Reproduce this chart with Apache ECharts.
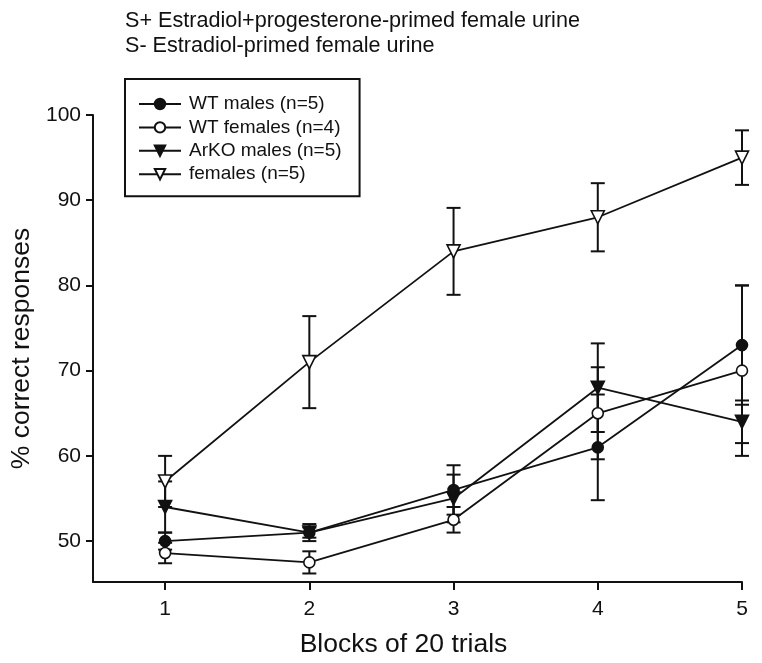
<!DOCTYPE html>
<html>
<head>
<meta charset="utf-8">
<script src="https://cdn.jsdelivr.net/npm/echarts@6/dist/echarts.min.js"></script>
<style>
html,body{margin:0;padding:0;background:#fff;}
#chart{width:762px;height:663px;}
</style>
</head>
<body>
<div id="chart"></div>
<script>
// ---- data ----
var titleLines = ['S+ Estradiol+progesterone-primed female urine', 'S- Estradiol-primed female urine'];
var blocks = [1, 2, 3, 4, 5];
var xTicks = [1, 2, 3, 4, 5];
var yTicks = [50, 60, 70, 80, 90, 100];
var seriesNames = ['WT males (n=5)', 'WT females (n=4)', 'ArKO males (n=5)', 'females (n=5)'];
var wtMales = [50, 51, 56, 61, 73];
var wtMalesErr = [1.0, 1.0, 2.9, 6.2, 7.0];
var wtFemales = [48.6, 47.5, 52.5, 65, 70];
var wtFemalesErr = [1.2, 1.3, 1.5, 5.4, 10.0];
var arkoMales = [54, 51, 55, 68, 64];
var arkoMalesErr = [3.0, 0.6, 2.8, 5.2, 2.5];
var females = [57, 71, 84, 88, 95];
var femalesErr = [3.0, 5.4, 5.1, 4.0, 3.2];

var FONT = '"Liberation Sans", Arial, Helvetica, sans-serif';
var INK = '#111';

var groups = [
  {name: seriesNames[0], vals: wtMales, err: wtMalesErr, symbol: 'circle', rot: 0, fill: INK, size: 11, z: 5},
  {name: seriesNames[1], vals: wtFemales, err: wtFemalesErr, symbol: 'circle', rot: 0, fill: '#fff', size: 11, z: 3},
  {name: seriesNames[2], vals: arkoMales, err: arkoMalesErr, symbol: 'triangle', rot: 180, fill: INK, size: 13, z: 4},
  {name: seriesNames[3], vals: females, err: femalesErr, symbol: 'triangle', rot: 180, fill: '#fff', size: 13, z: 3}
];

function pairs(v) { return blocks.map(function (b, i) { return [b, v[i]]; }); }
function triples(v, e) { return blocks.map(function (b, i) { return [b, v[i], e[i]]; }); }

function renderErr(params, api) {
  var x = api.value(0), y = api.value(1), e = api.value(2);
  var top = api.coord([x, y + e]);
  var bot = api.coord([x, y - e]);
  var hw = 7;
  var st = {stroke: INK, lineWidth: 2};
  return {
    type: 'group',
    children: [
      {type: 'line', shape: {x1: top[0], y1: top[1], x2: bot[0], y2: bot[1]}, style: st},
      {type: 'line', shape: {x1: top[0] - hw, y1: top[1], x2: top[0] + hw, y2: top[1]}, style: st},
      {type: 'line', shape: {x1: bot[0] - hw, y1: bot[1], x2: bot[0] + hw, y2: bot[1]}, style: st}
    ]
  };
}

var series = [];
groups.forEach(function (g) {
  series.push({
    type: 'custom',
    name: g.name + ' err',
    renderItem: renderErr,
    data: triples(g.vals, g.err),
    encode: {x: 0, y: 1},
    z: 1,
    silent: true
  });
});
groups.forEach(function (g) {
  series.push({
    type: 'line',
    name: g.name,
    data: pairs(g.vals),
    symbol: g.symbol,
    symbolSize: g.size,
    symbolRotate: g.rot,
    showAllSymbol: true,
    lineStyle: {color: INK, width: 1.8},
    itemStyle: {color: g.fill, borderColor: INK, borderWidth: 1.6},
    emphasis: {disabled: true},
    z: g.z
  });
});

var chart = echarts.init(document.getElementById('chart'), null, {renderer: 'canvas'});
chart.setOption({
  animation: false,
  backgroundColor: '#fff',
  title: {
    text: titleLines.join('\n'),
    left: 125,
    top: 9,
    padding: 0,
    textStyle: {fontFamily: FONT, fontSize: 21.6, fontWeight: 'normal', color: INK, lineHeight: 25}
  },
  legend: {
    data: seriesNames,
    orient: 'vertical',
    left: 125,
    top: 79,
    width: 233,
    padding: [15, 18, 12, 13],
    borderColor: INK,
    borderWidth: 2,
    itemWidth: 42,
    itemHeight: 13,
    itemGap: 3.4,
    textStyle: {fontFamily: FONT, fontSize: 19, color: INK, lineHeight: 20, padding: [0, 0, 0, 3]},
    selectedMode: false
  },
  grid: {left: 93, right: 20, top: 115, bottom: 81, containLabel: false, outerBoundsMode: 'none'},
  xAxis: {
    type: 'value',
    min: 0.5,
    max: 5,
    name: 'Blocks of 20 trials',
    nameLocation: 'middle',
    nameGap: 49,
    nameTextStyle: {fontFamily: FONT, fontSize: 26.5, color: INK, padding: [0, 28, 0, 0]},
    axisLine: {show: true, onZero: false, lineStyle: {color: INK, width: 2}},
    axisTick: {show: true, length: 8, lineStyle: {color: INK, width: 2}, customValues: xTicks},
    axisLabel: {fontFamily: FONT, fontSize: 21, color: INK, margin: 17, customValues: xTicks},
    splitLine: {show: false}
  },
  yAxis: {
    type: 'value',
    min: 45.2,
    max: 100,
    name: '% correct responses',
    nameLocation: 'middle',
    nameGap: 56,
    nameTextStyle: {fontFamily: FONT, fontSize: 26.5, color: INK},
    axisLine: {show: true, onZero: false, lineStyle: {color: INK, width: 2}},
    axisTick: {show: true, length: 7, lineStyle: {color: INK, width: 2}, customValues: yTicks},
    axisLabel: {fontFamily: FONT, fontSize: 21, color: INK, margin: 12, customValues: yTicks},
    splitLine: {show: false}
  },
  series: series
});
</script>
</body>
</html>
